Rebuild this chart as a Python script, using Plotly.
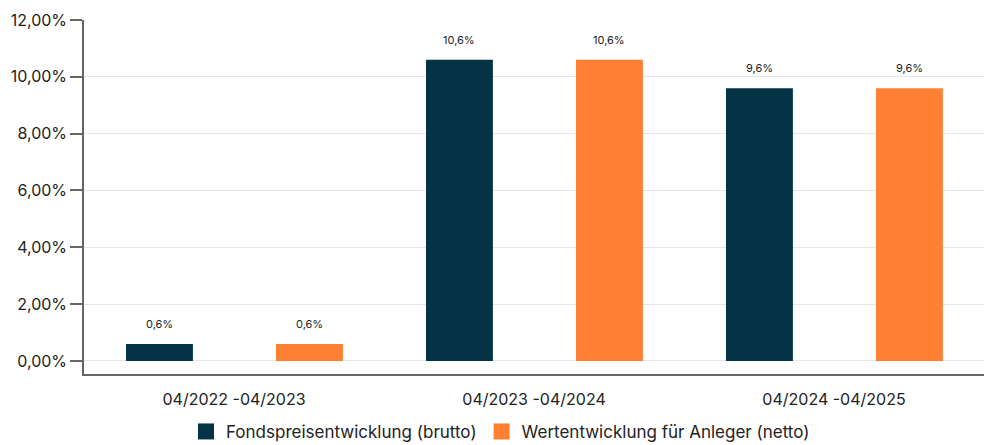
import plotly.graph_objects as go

categories = ["04/2022 -04/2023", "04/2023 -04/2024", "04/2024 -04/2025"]
brutto = [0.6, 10.6, 9.6]
netto = [0.6, 10.6, 9.6]
series_names = ["Fondspreisentwicklung (brutto)", "Wertentwicklung für Anleger (netto)"]
colors = ["#033344", "#FF8033"]
y_ticks = [0, 2, 4, 6, 8, 10, 12]
y_tick_labels = ["0,00%", "2,00%", "4,00%", "6,00%", "8,00%", "10,00%", "12,00%"]

FONT = "Inter, Lato, sans-serif"

fig = go.Figure()
for name, vals, col, off in [(series_names[0], brutto, colors[0], -0.36),
                             (series_names[1], netto, colors[1], 0.14)]:
    fig.add_trace(go.Bar(
        x=categories, y=vals, name=name, marker_color=col,
        width=0.223, offset=off, marker_line_width=0, showlegend=False,
    ))
    # legend entry with a large square swatch
    fig.add_trace(go.Scatter(
        x=[categories[0]], y=[None], mode="markers", name=name,
        marker=dict(symbol="square", size=20, color=col), showlegend=True,
    ))
    for c, v in zip(categories, vals):
        fig.add_annotation(
            x=c, y=v, xref="x", yref="y", text=f"{v:.1f}".replace(".", ",") + "%",
            showarrow=False, yshift=20, xshift=(off + 0.1115) * 300,
            font=dict(size=11, color="#222", family=FONT),
        )

fig.update_layout(
    width=985, height=437,
    margin=dict(l=76, r=9, t=12, b=71, autoexpand=False),
    paper_bgcolor="white", plot_bgcolor="white",
    barmode="overlay",
    font=dict(family=FONT, size=16, color="#222"),
    showlegend=True,
    legend=dict(orientation="h", x=0.5, xanchor="center", xref="container",
                y=0.03, yanchor="middle", yref="container",
                font=dict(size=17, color="#222"), itemwidth=30,
                traceorder="normal"),
    xaxis=dict(showline=True, linecolor="#666", linewidth=1.5, showgrid=False,
               ticks="", ticklabelstandoff=10, tickfont=dict(size=16), automargin=False),
    yaxis=dict(range=[-0.46, 12], tickvals=y_ticks, ticktext=y_tick_labels,
               showline=True, linecolor="#666", linewidth=1.5,
               showgrid=True, gridcolor="#e6e6e6", gridwidth=1,
               ticks="outside", ticklen=12, tickcolor="#666", tickwidth=1.5,
               zeroline=False, tickfont=dict(size=16), automargin=False),
)

fig.write_html("out.html")
